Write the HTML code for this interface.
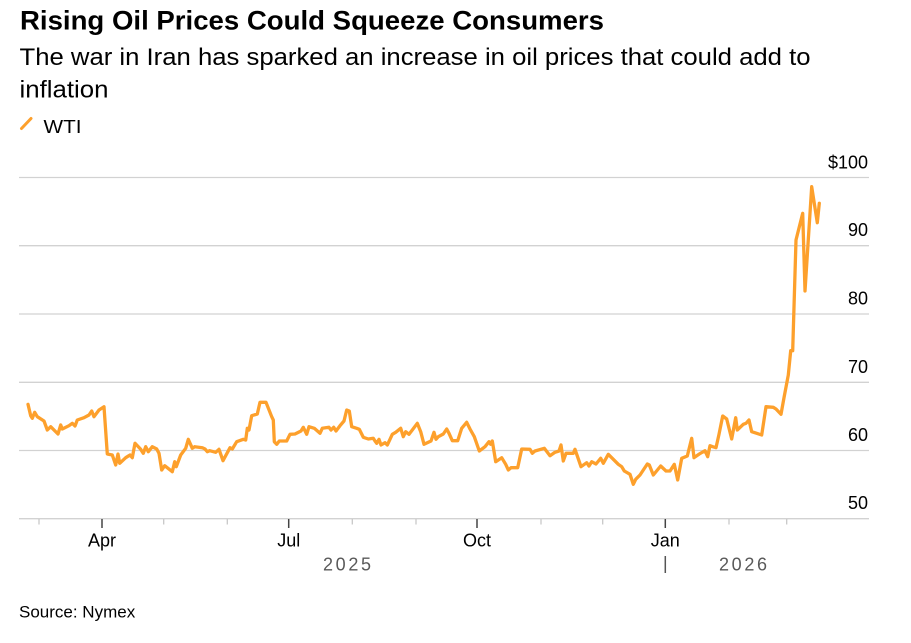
<!DOCTYPE html>
<html>
<head>
<meta charset="utf-8">
<style>
  html, body { margin: 0; padding: 0; background: #ffffff; }
  body { width: 911px; height: 643px; overflow: hidden; }
  svg { display: block; }
  text { font-family: "Liberation Sans", Arial, sans-serif; }
</style>
</head>
<body>
<svg width="911" height="643" viewBox="0 0 911 643" xmlns="http://www.w3.org/2000/svg">
  <rect x="0" y="0" width="911" height="643" fill="#ffffff"/>

  <!-- Title & subtitle -->
  <text x="20" y="29.3" font-size="27" font-weight="bold" fill="#000" textLength="584" lengthAdjust="spacingAndGlyphs">Rising Oil Prices Could Squeeze Consumers</text>
  <text x="19.5" y="65" font-size="24" fill="#000" textLength="791" lengthAdjust="spacingAndGlyphs">The war in Iran has sparked an increase in oil prices that could add to</text>
  <text x="19.5" y="97.3" font-size="24" fill="#000" textLength="89" lengthAdjust="spacingAndGlyphs">inflation</text>

  <!-- Legend -->
  <line x1="21.5" y1="128.5" x2="31" y2="118.5" stroke="#fda02c" stroke-width="3" stroke-linecap="round"/>
  <text x="43.5" y="133" font-size="18" fill="#000" textLength="38" lengthAdjust="spacingAndGlyphs">WTI</text>

  <!-- Gridlines -->
  <g stroke="#d2d2d2" stroke-width="1.3">
    <line x1="19" y1="177.5" x2="869" y2="177.5"/>
    <line x1="19" y1="245.7" x2="869" y2="245.7"/>
    <line x1="19" y1="314" x2="869" y2="314"/>
    <line x1="19" y1="382.3" x2="869" y2="382.3"/>
    <line x1="19" y1="450.5" x2="869" y2="450.5"/>
    <line x1="19" y1="518.7" x2="869" y2="518.7"/>
  </g>

  <!-- Y labels -->
  <g font-size="18" fill="#000" text-anchor="end">
    <text x="868" y="168.3">$100</text>
    <text x="868" y="236.2">90</text>
    <text x="868" y="304.5">80</text>
    <text x="868" y="372.8">70</text>
    <text x="868" y="441">60</text>
    <text x="868" y="509.2">50</text>
  </g>

  <!-- Minor ticks -->
  <g stroke="#c8c8c8" stroke-width="1.3">
    <line x1="39" y1="519" x2="39" y2="524.5"/>
    <line x1="163.7" y1="519" x2="163.7" y2="524.5"/>
    <line x1="227.3" y1="519" x2="227.3" y2="524.5"/>
    <line x1="352.3" y1="519" x2="352.3" y2="524.5"/>
    <line x1="416" y1="519" x2="416" y2="524.5"/>
    <line x1="541" y1="519" x2="541" y2="524.5"/>
    <line x1="602.7" y1="519" x2="602.7" y2="524.5"/>
    <line x1="729" y1="519" x2="729" y2="524.5"/>
    <line x1="786.7" y1="519" x2="786.7" y2="524.5"/>
  </g>
  <!-- Major ticks -->
  <g stroke="#444" stroke-width="1.5">
    <line x1="102" y1="519" x2="102" y2="528"/>
    <line x1="288.7" y1="519" x2="288.7" y2="528"/>
    <line x1="477" y1="519" x2="477" y2="528"/>
    <line x1="665.3" y1="519" x2="665.3" y2="528"/>
  </g>

  <!-- X labels -->
  <g font-size="18" fill="#000" text-anchor="middle">
    <text x="102" y="546.7">Apr</text>
    <text x="288.7" y="546.7">Jul</text>
    <text x="477" y="546.7">Oct</text>
    <text x="665.3" y="546.7">Jan</text>
  </g>
  <g font-size="18" fill="#5a5a5a">
    <text x="323" y="570.7" textLength="48" lengthAdjust="spacing">2025</text>
    <text x="719" y="570.7" textLength="48" lengthAdjust="spacing">2026</text>
  </g>
  <line x1="665.3" y1="556" x2="665.3" y2="573" stroke="#555" stroke-width="1.5"/>

  <!-- Source -->
  <text x="19" y="617.3" font-size="17" fill="#000">Source: Nymex</text>

  <!-- WTI series -->
  <polyline fill="none" stroke="#fda02c" stroke-width="3.3" stroke-linejoin="round" stroke-linecap="round" points="
28,404.3 30.7,415.7 32.3,418.3 34.7,412.3 37.3,416.7 44,421 47.3,430 50.7,426.7 58,434 60.7,425 62.3,429 69,425.7 72.3,423.3 75,426 77.3,420 84,417.7 89,415 91.7,411 94,416.7 99,410 104,406.7
107.3,454 112.3,455 115.7,465 118,454 119.7,463.3 125.7,457.7 130,455 132.3,457.7 135,443.3 140.7,449.3 143.3,453.3 145.7,446.7 148.3,451.7 152.3,446.7 156.7,449 159,453.3 161.7,470 164.7,465.7 172.3,471.7 174.7,461.7 176.3,466.7 180.7,455 185.7,448.3 188.3,439.3 192.3,448.3 194.7,446.7 202.3,447.7 205,449 207.3,451.7 209.7,450.7 215.7,452.3 219,449.3 223,460.7
230,447.7 232.3,449 236.7,441.7 243.3,439.3 245.7,440 247.3,428.3 249,430 251.7,415.7 257.3,414 260,402.3 266,402.3 271.7,416.7 273.3,420 274.3,441.7 276.7,444.3 279.3,441 286.7,441 290,434.3 295,434 301,431 303.3,427.3 306.7,434.3 309,426.7 314.3,428.3 320,433.3 322.3,428.3 329,427.3 331,430 333.7,427.3 336,431 340,425.7 344,421 346.7,410 349.3,411 351.7,426.7 356.7,428.3 359.3,429.3 363.3,437.3 368.3,439 373.3,438.3 375,441 376.7,443.3 379,439.3 381,445 385,442.7 387.3,445 390,439.3 392.3,434.3 395.7,432.3 400.7,428.3 403.3,436.7 405.7,431.7 409,434.3 412.3,430 417.3,423.3 420.7,431.7 424,444.3 428.3,442.3 431,441 434,432.3 436,439.3
438.3,436.7 443.3,434 446.7,429 449,433.3 452.3,440.7 457.7,440.7 461.7,428.3 466.7,422.3 470,429 474.3,436.7 479.3,451 485,446.7 489,441.7 490.7,444.3 492.3,441 495.7,461.7 501.7,457.7 505.7,464.3 508.3,470 511,467.7 517.7,467.7 521.7,449 530,449.3 532.3,453.3 535,451 544.3,448.3 550,455.7 555,452.3 559,451 561,445 563.3,461 566,453.3 573.3,453.3 575,449.3 581,466.7 586.7,462.7 589,466 591.7,461.7 596,464 600.7,458.3 603.3,463.3 608.3,454.3 613.3,459.3 618.3,464.3 621.7,466.7 624.3,471 630,474.3 633.3,484.3 635.7,479.3 640,475
647.3,464 649.3,465 653.3,475 660.7,466 666,471 670,471 674.3,464.3 677.7,480 681.7,458.3 687.3,456 691.7,438.3 694,457.7 699.3,454 705,450.7 707.7,456.7 710,445.7 712.7,446.7 716,447.7 719,434.3 722.7,416 726.7,419 731.7,439 735.7,417.7 737.3,430 743.3,424.3 746,423.3 749,420 751.7,431.7 756.7,433.3 761.7,435 766,406.7 773.3,407.3 776,409
781,414.3 784,397.7 788.3,375 790.7,350.7 792.7,350.7 796,240 802.7,213.3 805,291 811.7,186.7 817.3,222.7 819.3,203.3"/>
</svg>
</body>
</html>
